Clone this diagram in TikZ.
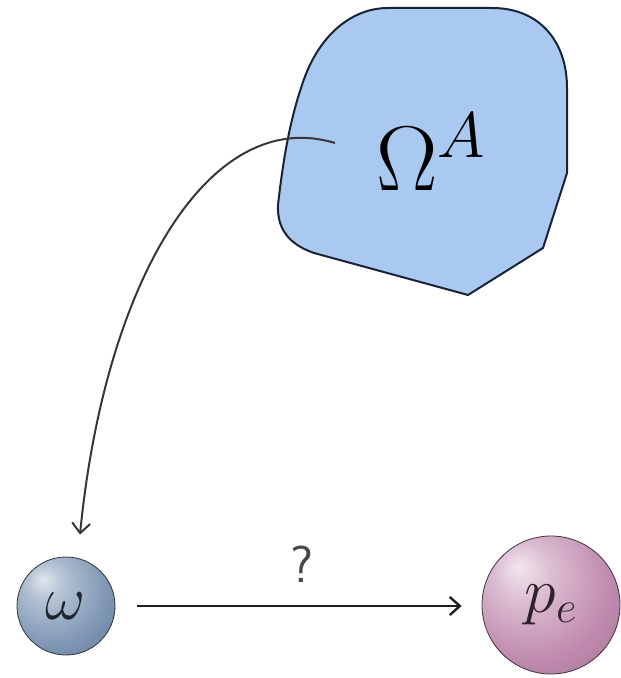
\RequirePackage{fix-cm}
\documentclass[tikz,border=0pt]{standalone}
\usetikzlibrary{arrows.meta}
\definecolor{blobfill}{RGB}{170,201,240}
\definecolor{blobline}{RGB}{25,35,55}
\definecolor{BL}{RGB}{126,150,180}
\definecolor{PK}{RGB}{192,138,174}
\definecolor{curvecol}{RGB}{55,55,55}
\definecolor{arrcol}{RGB}{30,30,30}
\pgfdeclareradialshading{wball}{\pgfpoint{-12bp}{14bp}}{color(0bp)=(BL!25!white); color(10bp)=(BL!60!white); color(28bp)=(BL); color(45bp)=(BL!80!black); color(65bp)=(BL!50!black)}
\pgfdeclareradialshading{pball}{\pgfpoint{-12bp}{14bp}}{color(0bp)=(PK!20!white); color(10bp)=(PK!55!white); color(28bp)=(PK); color(45bp)=(PK!82!black); color(65bp)=(PK!55!black)}
\tikzset{
  blob/.style={fill=blobfill, draw=blobline, line width=1pt, line join=round},
  ballw/.style={circle, shading=wball, draw=BL!35!black, line width=0.4pt, minimum size=49pt, inner sep=0pt, text=BL!25!black},
  ballp/.style={circle, shading=pball, draw=PK!35!black, line width=0.4pt, minimum size=69pt, inner sep=0pt, text=PK!25!black},
  curvearrow/.style={draw=curvecol, line width=1pt, -{Straight Barb[length=5pt,width=9pt]}},
  straightarrow/.style={draw=arrcol, line width=1.2pt, -{Straight Barb[length=5pt,width=9pt]}},
  qlabel/.style={font=\sffamily\fontsize{26}{26}\selectfont, text=black!72}
}
\begin{document}
\begin{tikzpicture}[x=0.5pt, y=-0.5pt]
\useasboundingbox (0,0) rectangle (620,678);
% blob
\path[blob] (388,8) -- (492,8)
  .. controls (540,8) and (567,42) .. (567,88)
  -- (567,173) -- (543,248) -- (468,295) -- (314,253)
  .. controls (288,244) and (277,228) .. (278,205)
  .. controls (283,160) and (290,120) .. (302,85)
  .. controls (318,35) and (352,8) .. (388,8) -- cycle;
\node[inner sep=0pt] (omA) at (431,152) {\fontsize{46}{50}\selectfont $\Omega^A$};
\coordinate (cstart) at (335,143);
% balls
\node[ballw] (w) at (66,606) {\fontsize{31}{31}\selectfont $\omega$};
\node[ballp] (pe) at (551,605) {\fontsize{32}{32}\selectfont $p_e$};
% arrows
\draw[curvearrow] (cstart) .. controls (210,105) and (105,280) .. ([xshift=7pt,yshift=11pt]w.north);
\draw[straightarrow, shorten <=11pt, shorten >=10pt] (w.east) -- (w.east -| pe.west);
\node[qlabel] (q) at (302,564) {?};
\end{tikzpicture}
\end{document}
